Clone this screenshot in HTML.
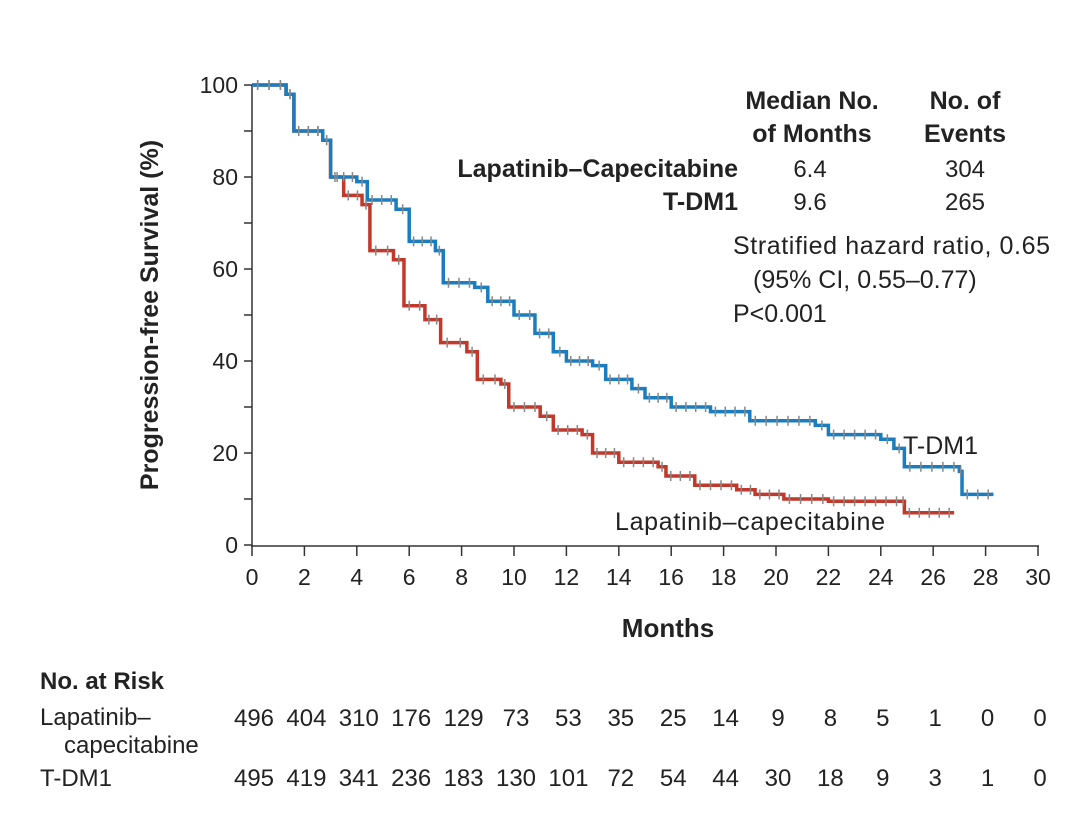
<!DOCTYPE html>
<html><head><meta charset="utf-8"><style>
body{margin:0;background:#fff;}
svg text{font-family:"Liberation Sans",sans-serif;fill:#222;}
</style></head><body>
<svg id="s" width="1080" height="831" xmlns="http://www.w3.org/2000/svg">
<g font-size="23">
<line x1="252" y1="85" x2="252" y2="546" stroke="#333" stroke-width="1.5"/>
<line x1="251" y1="546" x2="1039" y2="546" stroke="#333" stroke-width="1.5"/>
<g id="yt" text-anchor="end"></g>
<g id="xt" text-anchor="middle"></g>
</g>
<text transform="translate(158,315) rotate(-90)" text-anchor="middle" font-size="25" font-weight="bold">Progression-free Survival (%)</text>
<text x="668" y="637" text-anchor="middle" font-size="26" font-weight="bold">Months</text>
<g font-size="25" font-weight="bold" text-anchor="middle">
<text x="812" y="109">Median No.</text><text x="812" y="142">of Months</text>
<text x="965" y="109">No. of</text><text x="965" y="142">Events</text>
<text x="738" y="177" text-anchor="end">Lapatinib–Capecitabine</text>
<text x="738" y="210" text-anchor="end">T-DM1</text>
</g>
<g font-size="24" text-anchor="middle">
<text x="810" y="177">6.4</text><text x="965" y="177">304</text>
<text x="810" y="210">9.6</text><text x="965" y="210">265</text>
</g>
<g font-size="25">
<text x="733" y="254" textLength="317">Stratified hazard ratio, 0.65</text>
<text x="753" y="288">(95% CI, 0.55–0.77)</text>
<text x="733" y="322">P&lt;0.001</text>
<text x="903" y="454">T-DM1</text>
<text x="615" y="530" textLength="270">Lapatinib–capecitabine</text>
</g>
<g font-size="24">
<text x="40" y="689" font-weight="bold">No. at Risk</text>
<text x="40" y="725">Lapatinib–</text>
<text x="64" y="753">capecitabine</text>
<text x="40" y="786">T-DM1</text>
<g id="tab" text-anchor="middle"></g>
</g>
<path id="red" fill="none" stroke="#c0392b" stroke-width="3.5"/>
<path id="blue" fill="none" stroke="#1a7dc0" stroke-width="3.5"/>
<g id="cens" stroke="#888" stroke-width="1.5"></g>
</svg>
<script>
const X=m=>252+m*26.2, Y=p=>545-p*4.6, NS="http://www.w3.org/2000/svg";
function el(t,a,txt,par){const e=document.createElementNS(NS,t);for(const k in a)e.setAttribute(k,a[k]);if(txt!=null)e.textContent=txt;document.getElementById(par).appendChild(e);}
for(let p=0;p<=100;p+=20){el('text',{x:238,y:Y(p)+8},p,'yt');}
for(let p=0;p<=100;p+=10){el('line',{x1:244,y1:Y(p),x2:252,y2:Y(p),stroke:'#333','stroke-width':1.5},null,'yt');}
for(let m=0;m<=30;m+=2){el('text',{x:X(m),y:585},m,'xt');el('line',{x1:X(m),y1:546,x2:X(m),y2:556,stroke:'#333','stroke-width':1.5},null,'xt');}
const lap=[496,404,310,176,129,73,53,35,25,14,9,8,5,1,0,0],td=[495,419,341,236,183,130,101,72,54,44,30,18,9,3,1,0];
lap.forEach((v,i)=>el('text',{x:X(i*2)+2,y:726},v,'tab'));
td.forEach((v,i)=>el('text',{x:X(i*2)+2,y:786},v,'tab'));
const blue=[[0,100],[1.3,98],[1.6,90],[2.7,88],[3.0,80],[4,79],[4.4,75],[5.5,73],[6,66],[7,64],[7.3,57],[8.5,56],[9,53],[10,50],[10.8,46],[11.5,42],[12,40],[13,39],[13.5,36],[14.5,34],[15,32],[16,30],[17.5,29],[19,27],[21.5,26],[22,24],[24,23],[24.5,21],[24.9,17],[27,16],[27.1,11],[28.3,11]];
const red=[[0,100],[1.3,98],[1.6,90],[2.7,88],[3.0,80],[3.5,76],[4.2,74],[4.5,64],[5.4,62],[5.8,52],[6.6,49],[7.2,44],[8.2,42],[8.6,36],[9.5,35],[9.8,30],[11,28],[11.5,25],[12.6,24],[13,20],[14,18],[15.5,17],[15.8,15],[16.9,13],[18.5,12],[19.2,11],[20.3,10],[22,9.5],[24.8,9.5],[24.9,7],[26.8,7]];
function path(d){let s=`M${X(d[0][0])},${Y(d[0][1])}`;for(let i=1;i<d.length;i++){s+=`H${X(d[i][0])}V${Y(d[i][1])}`;}return s;}
document.getElementById('blue').setAttribute('d',path(blue));
document.getElementById('red').setAttribute('d',path(red));
function cens(d){for(let i=1;i<d.length;i++){const a=d[i-1],b=d[i];const n=Math.max(1,Math.round((b[0]-a[0])*2.5));for(let k=0;k<n;k++){const m=a[0]+(b[0]-a[0])*(k+0.5)/n;el('line',{x1:X(m),y1:Y(a[1])-5,x2:X(m),y2:Y(a[1])+5},null,'cens');}}}
cens(blue);cens(red);
</script>
</body></html>
